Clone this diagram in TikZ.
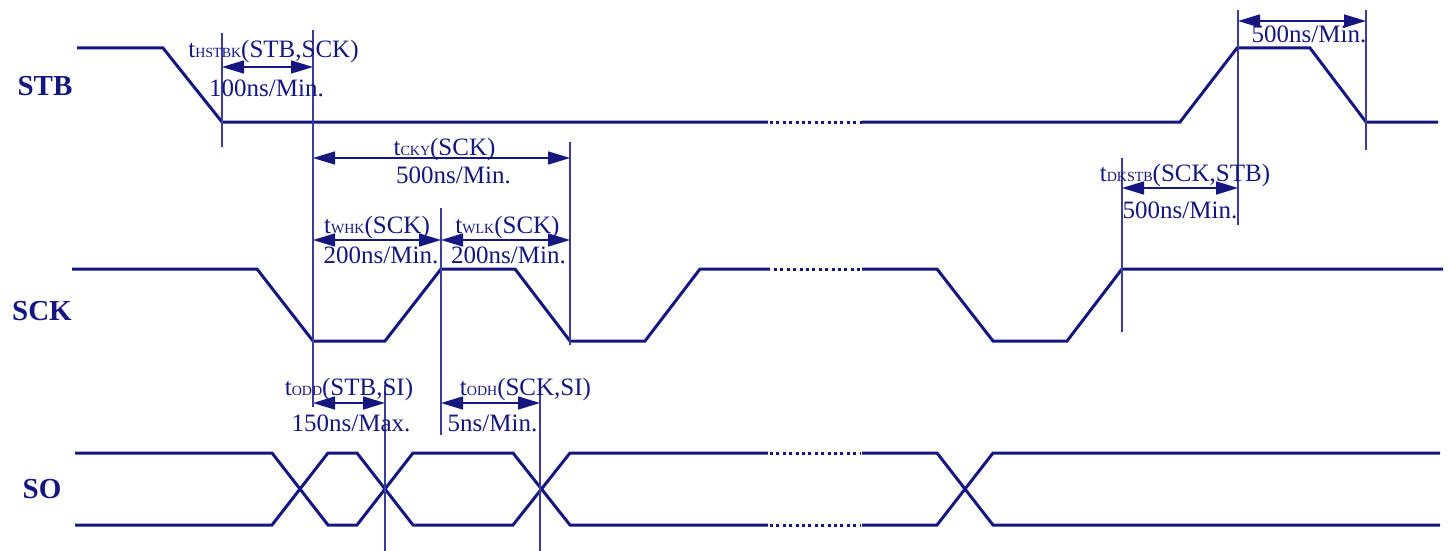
\documentclass[tikz,border=0pt]{standalone}
\usepackage{fontspec}
\setmainfont{Liberation Serif}
\usetikzlibrary{arrows.meta}
\definecolor{wavecol}{RGB}{22,22,128}
\definecolor{markcol}{RGB}{60,60,160}
\tikzset{>={Triangle[length=22pt,width=13pt]}}
\tikzset{
    sig/.style={draw=wavecol,line width=3pt},
    gap/.style={draw=wavecol,line width=3pt,dash pattern=on 3pt off 3.4pt},
    markline/.style={draw=markcol,line width=1.8pt},
    dimline/.style={draw=wavecol,line width=1.6pt},
    lbl/.style={text=wavecol,font=\fontsize{25}{27}\selectfont,inner sep=0pt,
        text height=17pt,text depth=5pt,anchor=center},
    signame/.style={text=wavecol,font=\fontsize{29}{30}\selectfont\bfseries,inner sep=0pt}
}
\newcommand{\tsub}[1]{t{\fontsize{14}{14}\selectfont #1}}

\begin{document}
\begin{tikzpicture}[x=1pt,y=-1pt]
    \useasboundingbox (0,0) rectangle (1448,551);
    % signal names
    \node[signame] (stb) at (45,86)  {STB};
    \node[signame] (sck) at (42,311) {SCK};
    \node[signame] (so)  at (42,489) {SO};

    % STB
    \draw[sig] (77,48) -- (163,48) -- (222,122) -- (768,122);
    \draw[gap] (770,122) -- (862,122);
    \draw[sig] (862,122) -- (1180,122) -- (1237,48) -- (1310,48) -- (1366,122) -- (1438,122);

    % SCK
    \draw[sig] (72,269) -- (257,269) -- (313,341) -- (385,341) -- (441,269) -- (515,269)
        -- (570,341) -- (645,341) -- (700,269) -- (770,269);
    \draw[gap] (774,269) -- (862,269);
    \draw[sig] (862,269) -- (937,269) -- (993,341) -- (1067,341) -- (1122,269) -- (1443,269);

    % SO
    \foreach \ya/\yb in {453/525,525/453} {
        \draw[sig] (75,\ya) -- (272,\ya) -- (328,\yb) -- (357,\yb) -- (413,\ya) -- (513,\ya)
            -- (570,\yb) -- (768,\yb);
        \draw[gap] (770,\yb) -- (860,\yb);
        \draw[sig] (862,\yb) -- (937,\yb) -- (993,\ya) -- (1440,\ya);
    }

    % marker lines
    \foreach \n/\x/\ya/\yb in {a/222/33/147, b/313/30/407, c/570/142/345, d/441/208/435,
        e/385/385/551, f/540/378/551, g/1122/158/332, h/1238/10/225, i/1366/10/150} {
        \coordinate (m\n top) at (\x,\ya);
        \coordinate (m\n bot) at (\x,\yb);
        \draw[markline] (m\n top) -- (m\n bot);
    }

    % arrow ends
    \coordinate (hsL) at (222,67);   \coordinate (hsR) at (313,67);
    \coordinate (ckL) at (313,158);  \coordinate (ckR) at (570,158);
    \coordinate (whL) at (313,240);  \coordinate (whR) at (441,240);
    \coordinate (wlL) at (441,240);  \coordinate (wlR) at (570,240);
    \coordinate (odL) at (313,403);  \coordinate (odR) at (385,403);
    \coordinate (ohL) at (441,403);  \coordinate (ohR) at (540,403);
    \coordinate (dkL) at (1122,188); \coordinate (dkR) at (1238,188);
    \coordinate (wsL) at (1238,21);  \coordinate (wsR) at (1366,21);

    \path[<->]
        (hsL) edge[dimline] node[lbl,xshift=6pt,yshift=15pt] {\tsub{HSTBK}(STB,SCK)}
                            node[lbl,xshift=-1pt,yshift=-23pt] {100ns/Min.} (hsR)
        (ckL) edge[dimline] node[lbl,xshift=3pt,yshift=9pt] {\tsub{CKY}(SCK)}
                            node[lbl,xshift=12pt,yshift=-19pt] {500ns/Min.} (ckR)
        (whL) edge[dimline] node[lbl,yshift=13pt] {\tsub{WHK}(SCK)}
                            node[lbl,xshift=4pt,yshift=-17pt] {200ns/Min.} (whR)
        (wlL) edge[dimline] node[lbl,xshift=2pt,yshift=13pt] {\tsub{WLK}(SCK)}
                            node[lbl,xshift=3pt,yshift=-17pt] {200ns/Min.} (wlR)
        (odL) edge[dimline] node[lbl,yshift=14pt] {\tsub{ODD}(STB,SI)}
                            node[lbl,xshift=2pt,yshift=-22pt] {150ns/Max.} (odR)
        (ohL) edge[dimline] node[lbl,xshift=35pt,yshift=14pt] {\tsub{ODH}(SCK,SI)}
                            node[lbl,xshift=2pt,yshift=-22pt] {5ns/Min.} (ohR)
        (dkL) edge[dimline] node[lbl,xshift=5pt,yshift=13pt] {\tsub{DKSTB}(SCK,STB)}
                            node[lbl,yshift=-24pt] {500ns/Min.} (dkR)
        (wsL) edge[dimline] node[lbl,xshift=7pt,yshift=-16pt] {500ns/Min.} (wsR)
    ;
\end{tikzpicture}
\end{document}
